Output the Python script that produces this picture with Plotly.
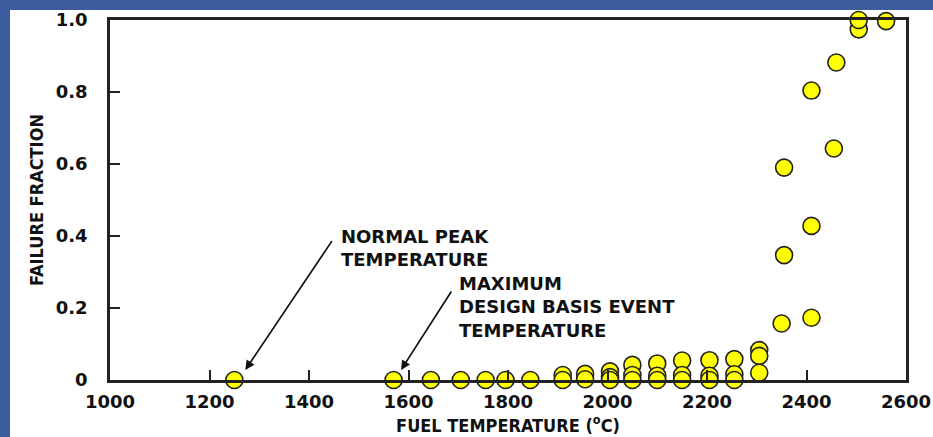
import plotly.graph_objects as go

# ---- data ----
fuel_temp = [
    1250, 1570, 1645, 1705, 1755, 1795, 1845,
    1910, 1910, 1955, 1955,
    2005, 2005, 2005, 2050, 2050, 2050,
    2100, 2100, 2100, 2150, 2150, 2150,
    2205, 2205, 2205, 2255, 2255, 2255,
    2305, 2305, 2305,
    2350, 2355, 2355,
    2410, 2410, 2410,
    2455, 2460,
    2505, 2505, 2560,
]
failure_fraction = [
    0.0, 0.0, 0.0, 0.0, 0.0, 0.0, 0.0,
    0.014, 0.0, 0.017, 0.002,
    0.024, 0.008, 0.0, 0.042, 0.014, 0.0,
    0.046, 0.012, 0.0, 0.054, 0.014, 0.0,
    0.055, 0.012, 0.0, 0.058, 0.016, 0.0,
    0.083, 0.067, 0.020,
    0.157, 0.347, 0.590,
    0.173, 0.428, 0.804,
    0.643, 0.882,
    0.974, 1.0, 0.997,
]

x_ticks = [1000, 1200, 1400, 1600, 1800, 2000, 2200, 2400, 2600]
y_ticks = [0, 0.2, 0.4, 0.6, 0.8, 1.0]
y_tick_text = ["0", "0.2", "0.4", "0.6", "0.8", "1.0"]

label_normal = ["NORMAL PEAK", "TEMPERATURE"]
label_dbe = ["MAXIMUM", "DESIGN BASIS EVENT", "TEMPERATURE"]

BOLD = "DejaVu Sans"
NARROW = "Liberation Sans Narrow, DejaVu Sans Condensed, Arial Narrow, sans-serif"

fig = go.Figure()
fig.add_trace(go.Scatter(
    x=fuel_temp, y=failure_fraction, mode="markers",
    marker=dict(size=17, color="#ffff00", line=dict(color="#222222", width=1.6)),
    cliponaxis=False, showlegend=False, hoverinfo="x+y",
))

annotations = []
# arrows
annotations.append(dict(x=1272, y=0.028, xref="x", yref="y", ax=1448, ay=0.39,
                        axref="x", ayref="y", text="", showarrow=True,
                        arrowhead=2, arrowsize=1.1, arrowwidth=1.7, arrowcolor="#111"))
annotations.append(dict(x=1585, y=0.028, xref="x", yref="y", ax=1688, ay=0.25,
                        axref="x", ayref="y", text="", showarrow=True,
                        arrowhead=2, arrowsize=1.1, arrowwidth=1.7, arrowcolor="#111"))
# labels
annotations.append(dict(x=1460, y=0.367, xref="x", yref="y",
                        text="<br>".join(label_normal), showarrow=False,
                        xanchor="left", yanchor="middle", align="left",
                        font=dict(family=BOLD, size=18, color="#111", weight="bold")))
annotations.append(dict(x=1698, y=0.203, xref="x", yref="y",
                        text="<br>".join(label_dbe), showarrow=False,
                        xanchor="left", yanchor="middle", align="left",
                        font=dict(family=BOLD, size=18, color="#111", weight="bold")))

# left and top blue border strips (outside the plot area)
W, H = 933, 437
L, R, T, B = 110, 27, 20, 57
pw, ph = W - L - R, H - T - B
def px_to_paper_x(px):
    return (px - L) / pw
def py_to_paper_y(py):
    return (H - B - py) / ph

shapes = [
    dict(type="rect", xref="paper", yref="paper",
         x0=px_to_paper_x(0), x1=px_to_paper_x(10), y0=py_to_paper_y(H), y1=py_to_paper_y(0),
         fillcolor="#3d5c9e", line=dict(width=0), layer="below"),
    dict(type="rect", xref="paper", yref="paper",
         x0=px_to_paper_x(0), x1=px_to_paper_x(W), y0=py_to_paper_y(10), y1=py_to_paper_y(0),
         fillcolor="#3d5c9e", line=dict(width=0), layer="below"),
]

fig.update_layout(
    width=W, height=H, autosize=False,
    margin=dict(l=L, r=R, t=T, b=B, autoexpand=False),
    paper_bgcolor="white", plot_bgcolor="white",
    annotations=annotations, shapes=shapes,
    xaxis=dict(
        range=[1000, 2600], tickvals=x_ticks, ticks="inside", ticklen=10, tickwidth=2,
        tickcolor="#222", showline=True, linecolor="#222", linewidth=2.5, mirror=True,
        showgrid=False, zeroline=False, ticklabelstandoff=4, automargin=False,
        tickfont=dict(family=BOLD, size=18, color="#111", weight="bold"),
        title=dict(text="FUEL TEMPERATURE (<sup>o</sup>C)", standoff=7,
                   font=dict(family=NARROW, size=18, color="#111", weight="bold")),
    ),
    yaxis=dict(
        range=[0, 1], tickvals=y_ticks, ticktext=y_tick_text, ticks="inside", ticklen=10,
        tickwidth=2, tickcolor="#222", showline=True, linecolor="#222", linewidth=2.5,
        mirror=True, showgrid=False, zeroline=False, ticklabelstandoff=16, automargin=False,
        tickfont=dict(family=BOLD, size=18, color="#111", weight="bold"),
        title=dict(text="FAILURE FRACTION", standoff=8,
                   font=dict(family=NARROW, size=18, color="#111", weight="bold")),
    ),
)

fig.write_html(
    "out.html", config={"displayModeBar": False},
    post_script=(
        "document.documentElement.style.margin='0';"
        "document.documentElement.style.overflow='hidden';"
        "document.body.style.margin='0';"
        "document.body.style.overflow='hidden';"
    ),
)
